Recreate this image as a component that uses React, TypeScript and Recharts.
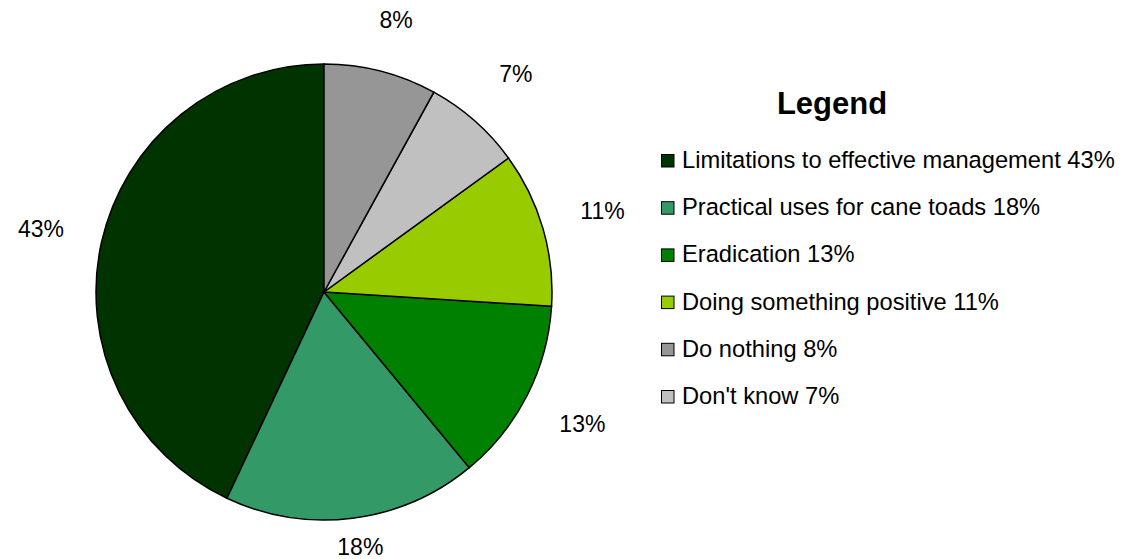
import React from "react";
import { PieChart, Pie, Cell, Customized } from "recharts";

const pieNames = [
  "Limitations to effective management",
  "Practical uses for cane toads",
  "Eradication",
  "Doing something positive",
  "Don't know",
  "Do nothing",
];
const pieValues = [43, 18, 13, 11, 7, 8];
const pieColors = ["#003300", "#339966", "#008000", "#99CC00", "#C0C0C0", "#969696"];

const legendNames = [
  "Limitations to effective management",
  "Practical uses for cane toads",
  "Eradication",
  "Doing something positive",
  "Do nothing",
  "Don't know",
];
const legendTitle = "Legend";

const W = 1121;
const H = 559;
const FONT = "'Liberation Sans', Arial, sans-serif";
const RAD = Math.PI / 180;

const data = pieNames.map((name, i) => ({ name, value: pieValues[i], color: pieColors[i] }));

const renderLabel = (props: any) => {
  const { cx, cy, midAngle, value } = props;
  const dist = 290;
  const x = cx + dist * Math.cos(-midAngle * RAD);
  let y = cy + dist * Math.sin(-midAngle * RAD);
  y = Math.max(20, Math.min(y, H - 12));
  return (
    <text
      x={x}
      y={y}
      textAnchor="middle"
      dominantBaseline="central"
      fontFamily={FONT}
      fontSize={23}
      fill="#000"
    >
      {`${value}%`}
    </text>
  );
};

const LegendBlock = () => {
  const startY = 168;
  const step = 47.2;
  return (
    <g>
      <text x={832} y={114} textAnchor="middle" fontFamily={FONT} fontSize={31} fontWeight="bold" fill="#000">
        {legendTitle}
      </text>
      {legendNames.map((name, i) => {
        const d = data.find((e) => e.name === name)!;
        const by = startY + i * step;
        return (
          <g key={name}>
            <rect x={661.5} y={by - 13.5} width={12.5} height={12.5} fill={d.color} stroke="#000" strokeWidth={1} />
            <text x={682} y={by} fontFamily={FONT} fontSize={23.7} fill="#000">
              {`${name} ${d.value}%`}
            </text>
          </g>
        );
      })}
    </g>
  );
};

export default function App() {
  return (
    <div style={{ position: "absolute", left: 0, top: 0, width: W, height: H, background: "#fff" }}>
      <PieChart width={W} height={H} margin={{ top: 0, right: 0, bottom: 0, left: 0 }}>
        <Pie
          data={data}
          dataKey="value"
          nameKey="name"
          cx={324}
          cy={292}
          outerRadius={228}
          startAngle={90}
          endAngle={450}
          stroke="#000"
          strokeWidth={1.5}
          label={renderLabel}
          labelLine={false}
          isAnimationActive={false}
        >
          {data.map((d) => (
            <Cell key={d.name} fill={d.color} />
          ))}
        </Pie>
        <Customized component={LegendBlock} />
      </PieChart>
    </div>
  );
}
